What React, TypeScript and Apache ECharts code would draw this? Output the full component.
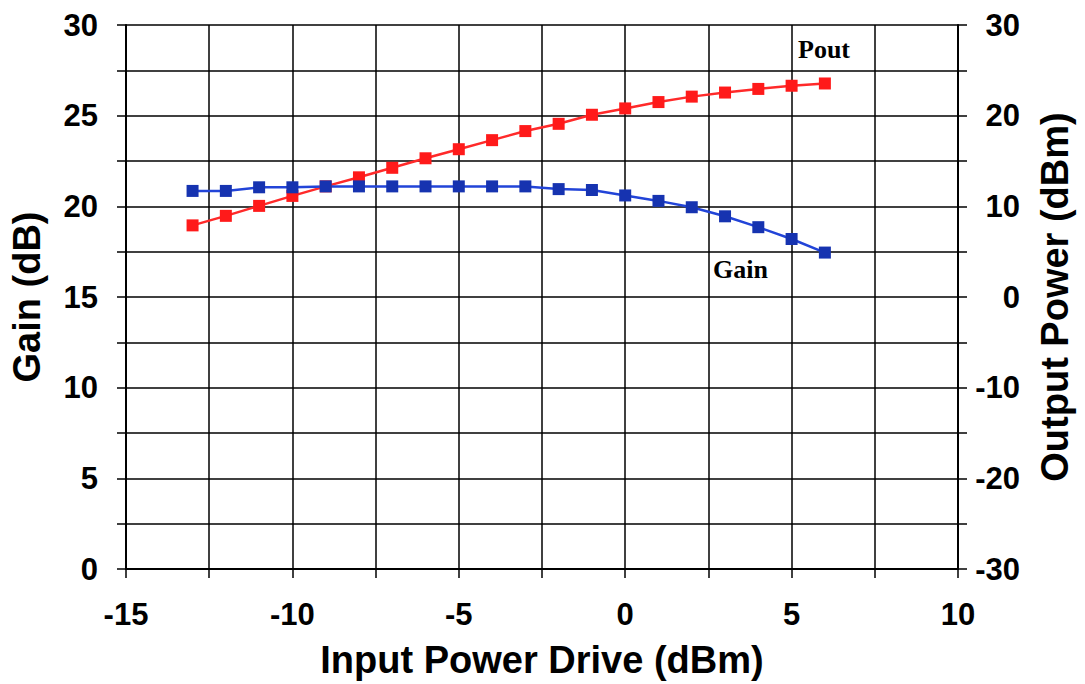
import React, { useEffect, useRef } from "react";
import * as echarts from "echarts";

const inputPower = [-13, -12, -11, -10, -9, -8, -7, -6, -5, -4, -3, -2, -1, 0, 1, 2, 3, 4, 5, 6];
const gainDb = [20.85, 20.85, 21.05, 21.05, 21.1, 21.1, 21.1, 21.1, 21.1, 21.1, 21.1, 20.95, 20.9, 20.6, 20.3, 19.95, 19.45, 18.85, 18.2, 17.45];
const outputPowerDbm = [7.9, 8.95, 10.05, 11.15, 12.2, 13.2, 14.25, 15.3, 16.3, 17.3, 18.3, 19.1, 20.1, 20.8, 21.5, 22.1, 22.55, 22.95, 23.3, 23.55];

const FONT = "'Liberation Sans', Arial, sans-serif";
const SERIF = "'Liberation Serif', 'Times New Roman', serif";

export default function App() {
  const ref = useRef<HTMLDivElement>(null);
  useEffect(() => {
    if (!ref.current) return;
    const chart = echarts.init(ref.current, null, { renderer: "svg" });
    const gridLine = { show: true, lineStyle: { color: "#000", width: 1.5 } };
    const axisLine = { show: true, onZero: false, lineStyle: { color: "#000", width: 2 } };
    const tick = { show: true, inside: false, length: 9, lineStyle: { color: "#000", width: 1.5 } };
    const labelStyle = { color: "#000", fontFamily: FONT, fontWeight: "bold" as const, fontSize: 31 };
    const titleStyle = { color: "#000", fontFamily: FONT, fontWeight: "bold" as const, fontSize: 38 };
    chart.setOption({
      animation: false,
      backgroundColor: "#fff",
      grid: { left: 122, right: 127, top: 25, bottom: 114, containLabel: false },
      xAxis: {
        type: "value",
        min: -15,
        max: 10,
        interval: 2.5,
        name: "Input Power Drive (dBm)",
        nameLocation: "middle",
        nameGap: 72,
        nameTextStyle: titleStyle,
        axisLine,
        axisTick: tick,
        splitLine: gridLine,
        axisLabel: {
          ...labelStyle,
          margin: 30,
          formatter: (v: number) => (v % 5 === 0 ? String(v) : ""),
        },
      },
      yAxis: [
        {
          type: "value",
          min: 0,
          max: 30,
          interval: 2.5,
          name: "Gain (dB)",
          nameLocation: "middle",
          nameGap: 80,
          nameRotate: 90,
          nameTextStyle: titleStyle,
          axisLine,
          axisTick: tick,
          splitLine: gridLine,
          axisLabel: {
            ...labelStyle,
            margin: 28,
            formatter: (v: number) => (v % 5 === 0 ? String(v) : ""),
          },
        },
        {
          type: "value",
          min: -30,
          max: 30,
          interval: 5,
          position: "right",
          name: "Output Power (dBm)",
          nameLocation: "middle",
          nameGap: 78,
          nameRotate: 90,
          nameTextStyle: titleStyle,
          axisLine,
          axisTick: tick,
          splitLine: { show: false },
          axisLabel: {
            ...labelStyle,
            align: "right",
            margin: 62,
            formatter: (v: number) => (v % 10 === 0 ? String(v) : ""),
          },
        },
      ],
      series: [
        {
          name: "Pout",
          type: "line",
          yAxisIndex: 1,
          data: inputPower.map((x, i) => [x, outputPowerDbm[i]]),
          symbol: "rect",
          symbolSize: 12,
          lineStyle: { color: "#ff2a2a", width: 2.5 },
          itemStyle: { color: "#ff1a1a" },
        },
        {
          name: "Gain",
          type: "line",
          yAxisIndex: 0,
          data: inputPower.map((x, i) => [x, gainDb[i]]),
          symbol: "rect",
          symbolSize: 12,
          lineStyle: { color: "#2244d8", width: 2.5 },
          itemStyle: { color: "#1633b0" },
        },
      ],
      graphic: [
        {
          type: "text",
          left: 798,
          top: 36,
          style: { text: "Pout", fill: "#000", font: `bold 26px ${SERIF}` },
        },
        {
          type: "text",
          left: 713,
          top: 256,
          style: { text: "Gain", fill: "#000", font: `bold 26px ${SERIF}` },
        },
      ],
    });
    return () => chart.dispose();
  }, []);
  return (
    <div
      ref={ref}
      style={{ position: "fixed", left: 0, top: 0, width: 1085, height: 684, background: "#fff" }}
    />
  );
}
